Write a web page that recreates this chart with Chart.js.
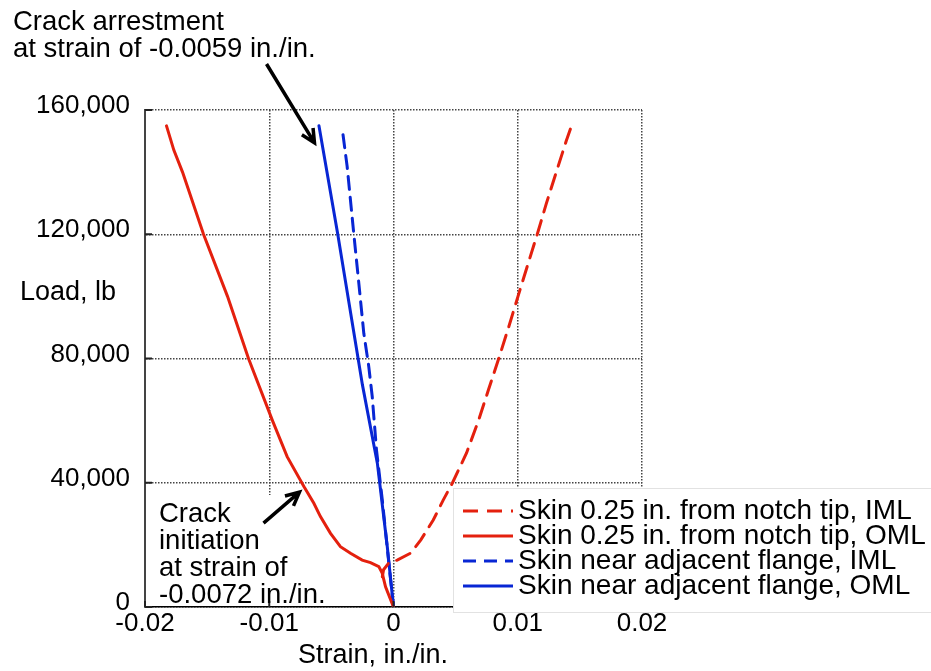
<!DOCTYPE html>
<html>
<head>
<meta charset="utf-8">
<script src="https://cdn.jsdelivr.net/npm/chart.js@4"></script>
<style>
  html, body { margin: 0; padding: 0; background: #fff; }
</style>
</head>
<body>
<canvas id="myChart" width="931" height="671"></canvas>
<script>
  // values
  const redImlStrain = [-0.0009, -0.0008, -0.0004, 0.0003, 0.0014, 0.0022, 0.0032, 0.0040, 0.00475, 0.00588, 0.00684, 0.00765, 0.00847, 0.00926, 0.01002, 0.01079, 0.01157, 0.01231, 0.0131, 0.0139, 0.01433]
  const redImlLoad = [9700, 12000, 14100, 15100, 17400, 21600, 28000, 34400, 40000, 49600, 60000, 70000, 80000, 90000, 100000, 110000, 120000, 130000, 140000, 150000, 154900]

  const redOmlStrain = [0, -0.00064, -0.00091, -0.00118, -0.00185, -0.00252, -0.00346, -0.00427, -0.00507, -0.00588, -0.00641, -0.0072, -0.00856, -0.00974, -0.01167, -0.01336, -0.01529, -0.01698, -0.01768, -0.01827]
  const redOmlLoad = [0, 6500, 10900, 13000, 14300, 15100, 17300, 19400, 23700, 29100, 33400, 38700, 48400, 60000, 80000, 100000, 120000, 140000, 147100, 154900]

  const blueImlStrain = [0, -0.0004, -0.0009, -0.00137, -0.00171, -0.00199, -0.00239, -0.00279, -0.0032, -0.00373, -0.00413]
  const blueImlLoad = [0, 15100, 34400, 50600, 67700, 77400, 88100, 104200, 120300, 141800, 154100]

  const blueOmlStrain = [0, -0.0005, -0.0013, -0.0025, -0.0045, -0.0060]
  const blueOmlLoad = [0, 19400, 46300, 71500, 120300, 154900]

  const seriesNames = [
    'Skin 0.25 in. from notch tip, IML',
    'Skin 0.25 in. from notch tip, OML',
    'Skin near adjacent flange, IML',
    'Skin near adjacent flange, OML'
  ]

  const red = 'rgb(228, 32, 14)'
  const blue = 'rgb(8, 38, 212)'
  const fontFamily = '"Liberation Sans", Arial, Helvetica, sans-serif'

  function pts(xs, ys) {
    return xs.map((x, i) => ({ x: x, y: ys[i] }))
  }

  // notes: text in pixels, arrows in data units
  const notes = [
    { lines: ['Crack arrestment', 'at strain of -0.0059 in./in.'], x: 13, y: 30 },
    { lines: ['Crack', 'initiation', 'at strain of', '-0.0072 in./in.'], x: 159, y: 522 }
  ]
  const arrows = [
    { from: [-0.01022, 174800], to: [-0.00636, 149400] },
    { from: [-0.01046, 27000], to: [-0.00757, 37000] }
  ]

  function arrow(c, x1, y1, x2, y2) {
    const a = Math.atan2(y2 - y1, x2 - x1)
    const h = 15
    c.beginPath()
    c.moveTo(x1, y1)
    c.lineTo(x2, y2)
    c.moveTo(x2 - h * Math.cos(a - 0.45), y2 - h * Math.sin(a - 0.45))
    c.lineTo(x2, y2)
    c.lineTo(x2 - h * Math.cos(a + 0.45), y2 - h * Math.sin(a + 0.45))
    c.stroke()
  }

  const overlay = {
    id: 'overlay',
    beforeDatasetsDraw(chart) {
      const c = chart.ctx
      // white patch behind the initiation note
      c.save()
      c.fillStyle = '#fff'
      c.fillRect(147, 495, 180, 111)
      c.restore()
    },
    afterDraw(chart) {
      const c = chart.ctx
      const xs = chart.scales.x
      const ys = chart.scales.y
      const area = chart.chartArea
      c.save()

      // inward tick marks
      c.strokeStyle = '#222'
      c.lineWidth = 2
      ys.ticks.forEach(t => {
        const py = ys.getPixelForValue(t.value)
        c.beginPath(); c.moveTo(area.left, py); c.lineTo(area.left + 7, py); c.stroke()
      })
      xs.ticks.forEach(t => {
        const px = xs.getPixelForValue(t.value)
        c.beginPath(); c.moveTo(px, area.bottom); c.lineTo(px, area.bottom - 6); c.stroke()
      })

      // notes
      c.fillStyle = '#000'
      c.font = '27.5px ' + fontFamily
      c.textAlign = 'left'
      c.textBaseline = 'alphabetic'
      notes.forEach(n => {
        n.lines.forEach((l, i) => c.fillText(l, n.x, n.y + i * 27))
      })
      c.strokeStyle = '#000'
      c.lineWidth = 3.5
      c.lineCap = 'butt'
      arrows.forEach(a => {
        arrow(c, xs.getPixelForValue(a.from[0]), ys.getPixelForValue(a.from[1]),
          xs.getPixelForValue(a.to[0]), ys.getPixelForValue(a.to[1]))
      })

      // axis titles
      c.font = '27px ' + fontFamily
      c.fillText('Load, lb', 20, 300)
      c.textAlign = 'center'
      c.fillText('Strain, in./in.', 373, 663)

      // legend box
      const lx = 453, ly = 488
      c.fillStyle = '#fff'
      c.fillRect(lx, ly, chart.width - lx, 125)
      c.strokeStyle = '#e2e2e2'
      c.lineWidth = 1
      c.strokeRect(lx + 0.5, ly + 0.5, chart.width - lx, 124)
      c.textAlign = 'left'
      c.fillStyle = '#000'
      c.font = '28px ' + fontFamily
      chart.data.datasets.forEach((ds, i) => {
        const by = 519 + i * 25
        c.strokeStyle = ds.borderColor
        c.lineWidth = 3
        c.setLineDash(ds.borderDash || [])
        c.beginPath(); c.moveTo(463, by - 8); c.lineTo(513, by - 8); c.stroke()
        c.setLineDash([])
        c.fillText(ds.label, 518, by)
      })
      c.restore()
    }
  }

  const ctx = document.getElementById('myChart')

  new Chart(ctx, {
    type: 'line',
    data: {
      datasets: [
        { label: seriesNames[0], data: pts(redImlStrain, redImlLoad), borderColor: red, borderDash: [15, 9] },
        { label: seriesNames[1], data: pts(redOmlStrain, redOmlLoad), borderColor: red },
        { label: seriesNames[2], data: pts(blueImlStrain, blueImlLoad), borderColor: blue, borderDash: [13, 8] },
        { label: seriesNames[3], data: pts(blueOmlStrain, blueOmlLoad), borderColor: blue }
      ]
    },
    options: {
      responsive: false,
      animation: false,
      devicePixelRatio: 1,
      datasets: {
        line: { borderWidth: 3, pointRadius: 0, fill: false, tension: 0, borderCapStyle: 'round' }
      },
      layout: { padding: { top: 110, right: 289, left: 0, bottom: 0 } },
      scales: {
        x: {
          type: 'linear',
          min: -0.02,
          max: 0.02,
          afterFit: s => { s.height = 64 },
          grid: { color: '#444', lineWidth: 1.5, drawTicks: false },
          border: { color: '#000', width: 1.5, dash: [1.5, 1.5] },
          ticks: {
            stepSize: 0.01,
            padding: 1,
            color: '#000',
            font: { family: fontFamily, size: 26 },
            maxRotation: 0,
            callback: v => String(Number(v.toFixed(2)))
          }
        },
        y: {
          min: 0,
          max: 160000,
          afterFit: s => { s.width = 145 },
          grid: { color: '#444', lineWidth: 1.5, drawTicks: false },
          border: { color: '#444', width: 2, dash: [1.5, 1.5] },
          ticks: {
            stepSize: 40000,
            padding: 15,
            labelOffset: -4,
            color: '#000',
            font: { family: fontFamily, size: 26 },
            callback: v => v.toLocaleString('en-US')
          }
        }
      },
      plugins: {
        legend: { display: false },
        tooltip: { enabled: false }
      }
    },
    plugins: [overlay]
  })
</script>
</body>
</html>
